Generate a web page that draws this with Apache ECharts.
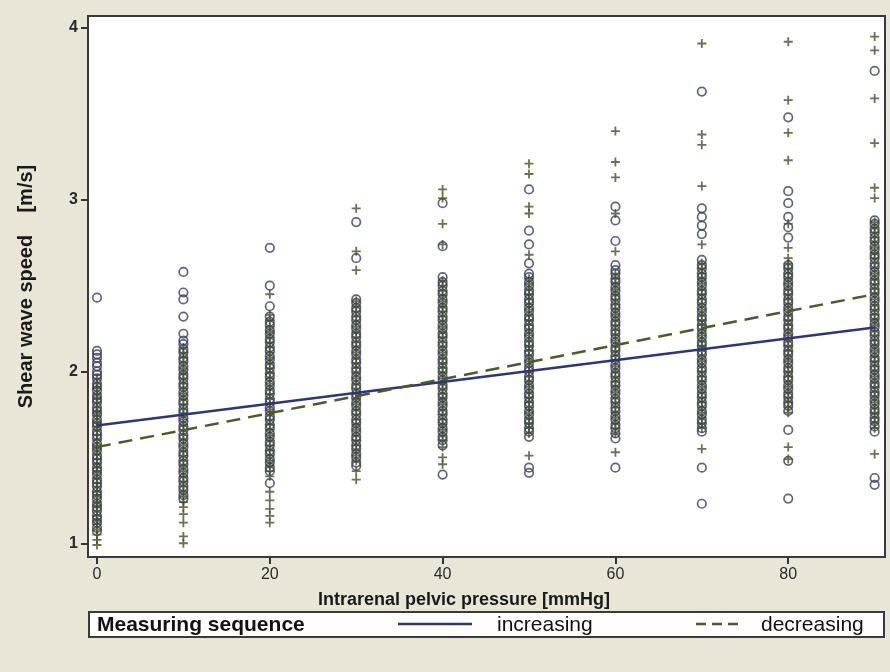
<!DOCTYPE html>
<html>
<head>
<meta charset="utf-8">
<script src="https://cdn.jsdelivr.net/npm/echarts@6/dist/echarts.min.js"></script>
<style>
html,body{margin:0;padding:0;background:#e9e6d7;}
#chart{width:890px;height:672px;}
</style>
</head>
<body>
<div id="chart"></div>
<script>
// ---- data ----
var pressures = [0, 10, 20, 30, 40, 50, 60, 70, 80, 90];
var xTicks = [0, 20, 40, 60, 80];
var yTicks = [1, 2, 3, 4];

// increasing sequence (open circles), one list per pressure
var increasing = [
  [2.43, 2.12, 2.10, 2.08, 2.05, 2.03, 2.00, 1.98, 1.96, 1.93, 1.91, 1.89, 1.86, 1.84, 1.82, 1.79, 1.77, 1.75, 1.72, 1.70, 1.68, 1.65, 1.63, 1.61, 1.58, 1.56, 1.54, 1.51, 1.49, 1.47, 1.44, 1.42, 1.40, 1.37, 1.35, 1.33, 1.30, 1.28, 1.26, 1.23, 1.21, 1.19, 1.16, 1.14, 1.12, 1.09, 1.07],
  [2.58, 2.46, 2.42, 2.32, 2.22, 2.18, 2.16, 2.13, 2.11, 2.08, 2.06, 2.03, 2.01, 1.98, 1.96, 1.93, 1.91, 1.88, 1.86, 1.83, 1.81, 1.78, 1.76, 1.73, 1.71, 1.68, 1.66, 1.63, 1.61, 1.58, 1.56, 1.53, 1.51, 1.48, 1.46, 1.43, 1.41, 1.38, 1.36, 1.33, 1.31, 1.28, 1.26],
  [2.72, 2.50, 2.38, 2.32, 2.29, 2.27, 2.24, 2.22, 2.19, 2.17, 2.14, 2.12, 2.09, 2.07, 2.04, 2.02, 1.99, 1.97, 1.94, 1.92, 1.89, 1.87, 1.84, 1.82, 1.79, 1.77, 1.74, 1.72, 1.69, 1.67, 1.64, 1.62, 1.59, 1.57, 1.54, 1.52, 1.49, 1.47, 1.44, 1.42, 1.35],
  [2.87, 2.66, 2.42, 2.40, 2.37, 2.35, 2.32, 2.30, 2.27, 2.25, 2.22, 2.20, 2.17, 2.15, 2.12, 2.10, 2.07, 2.05, 2.02, 2.00, 1.97, 1.95, 1.92, 1.90, 1.87, 1.85, 1.82, 1.80, 1.77, 1.75, 1.72, 1.70, 1.67, 1.65, 1.62, 1.60, 1.57, 1.55, 1.52, 1.50, 1.47, 1.45],
  [2.98, 2.73, 2.55, 2.52, 2.50, 2.47, 2.45, 2.42, 2.40, 2.37, 2.35, 2.32, 2.30, 2.27, 2.25, 2.22, 2.20, 2.17, 2.15, 2.12, 2.10, 2.07, 2.05, 2.02, 2.00, 1.97, 1.95, 1.92, 1.90, 1.87, 1.85, 1.82, 1.80, 1.77, 1.75, 1.72, 1.70, 1.67, 1.65, 1.62, 1.60, 1.57, 1.40],
  [3.06, 2.82, 2.74, 2.63, 2.57, 2.55, 2.52, 2.50, 2.47, 2.45, 2.42, 2.40, 2.37, 2.35, 2.32, 2.30, 2.27, 2.25, 2.22, 2.20, 2.17, 2.15, 2.12, 2.10, 2.07, 2.05, 2.02, 2.00, 1.97, 1.95, 1.92, 1.90, 1.87, 1.85, 1.82, 1.80, 1.77, 1.75, 1.72, 1.70, 1.67, 1.65, 1.62, 1.44, 1.41],
  [2.96, 2.88, 2.76, 2.62, 2.59, 2.57, 2.54, 2.52, 2.49, 2.47, 2.44, 2.42, 2.39, 2.37, 2.34, 2.32, 2.29, 2.27, 2.24, 2.22, 2.19, 2.17, 2.14, 2.12, 2.09, 2.07, 2.04, 2.02, 1.99, 1.97, 1.94, 1.92, 1.89, 1.87, 1.84, 1.82, 1.79, 1.77, 1.74, 1.72, 1.69, 1.67, 1.64, 1.61, 1.44],
  [3.63, 2.95, 2.90, 2.85, 2.80, 2.65, 2.62, 2.60, 2.57, 2.55, 2.52, 2.50, 2.47, 2.45, 2.42, 2.40, 2.37, 2.35, 2.32, 2.30, 2.27, 2.25, 2.22, 2.20, 2.17, 2.15, 2.12, 2.10, 2.07, 2.05, 2.02, 2.00, 1.97, 1.95, 1.92, 1.90, 1.87, 1.85, 1.82, 1.80, 1.77, 1.75, 1.72, 1.70, 1.67, 1.65, 1.44, 1.23],
  [3.48, 3.05, 2.98, 2.90, 2.84, 2.78, 2.62, 2.60, 2.57, 2.55, 2.52, 2.50, 2.47, 2.45, 2.42, 2.40, 2.37, 2.35, 2.32, 2.30, 2.27, 2.25, 2.22, 2.20, 2.17, 2.15, 2.12, 2.10, 2.07, 2.05, 2.02, 2.00, 1.97, 1.95, 1.92, 1.90, 1.87, 1.85, 1.82, 1.80, 1.77, 1.66, 1.48, 1.26],
  [3.75, 2.88, 2.86, 2.83, 2.81, 2.78, 2.76, 2.73, 2.71, 2.68, 2.66, 2.63, 2.61, 2.58, 2.56, 2.53, 2.51, 2.48, 2.46, 2.43, 2.41, 2.38, 2.36, 2.33, 2.31, 2.28, 2.26, 2.23, 2.21, 2.18, 2.16, 2.13, 2.11, 2.08, 2.06, 2.03, 2.01, 1.98, 1.96, 1.93, 1.91, 1.88, 1.86, 1.83, 1.81, 1.78, 1.76, 1.73, 1.71, 1.68, 1.65, 1.38, 1.34]
];

// decreasing sequence (plus signs), one list per pressure
var decreasing = [
  [1.96, 1.93, 1.90, 1.87, 1.85, 1.82, 1.79, 1.76, 1.74, 1.71, 1.68, 1.66, 1.63, 1.60, 1.57, 1.55, 1.52, 1.49, 1.46, 1.44, 1.41, 1.38, 1.35, 1.33, 1.30, 1.27, 1.24, 1.22, 1.19, 1.16, 1.13, 1.11, 1.08, 1.05, 1.02, 0.99],
  [2.14, 2.11, 2.08, 2.05, 2.02, 1.99, 1.96, 1.93, 1.90, 1.87, 1.84, 1.81, 1.78, 1.75, 1.72, 1.69, 1.66, 1.63, 1.60, 1.57, 1.54, 1.51, 1.48, 1.45, 1.42, 1.39, 1.36, 1.33, 1.30, 1.27, 1.24, 1.21, 1.17, 1.12, 1.04, 1.00],
  [2.45, 2.33, 2.30, 2.26, 2.23, 2.20, 2.17, 2.14, 2.11, 2.08, 2.05, 2.02, 1.99, 1.96, 1.93, 1.90, 1.87, 1.84, 1.81, 1.78, 1.75, 1.72, 1.69, 1.66, 1.63, 1.60, 1.57, 1.54, 1.51, 1.48, 1.45, 1.42, 1.39, 1.30, 1.25, 1.20, 1.16, 1.12],
  [2.95, 2.70, 2.59, 2.41, 2.38, 2.35, 2.32, 2.29, 2.26, 2.23, 2.20, 2.17, 2.14, 2.11, 2.08, 2.05, 2.02, 1.99, 1.96, 1.93, 1.90, 1.87, 1.84, 1.81, 1.78, 1.75, 1.72, 1.69, 1.66, 1.63, 1.60, 1.57, 1.54, 1.51, 1.48, 1.42, 1.37],
  [3.06, 3.01, 2.86, 2.74, 2.53, 2.50, 2.47, 2.44, 2.41, 2.38, 2.35, 2.32, 2.29, 2.26, 2.23, 2.20, 2.17, 2.14, 2.11, 2.08, 2.05, 2.02, 1.99, 1.96, 1.93, 1.90, 1.87, 1.84, 1.81, 1.78, 1.75, 1.72, 1.69, 1.66, 1.63, 1.60, 1.56, 1.50, 1.46],
  [3.21, 3.15, 2.96, 2.92, 2.68, 2.54, 2.51, 2.48, 2.45, 2.42, 2.39, 2.36, 2.33, 2.30, 2.27, 2.24, 2.21, 2.18, 2.15, 2.12, 2.09, 2.06, 2.03, 2.00, 1.97, 1.94, 1.91, 1.88, 1.85, 1.82, 1.79, 1.76, 1.73, 1.70, 1.67, 1.64, 1.51],
  [3.40, 3.22, 3.13, 2.92, 2.70, 2.57, 2.54, 2.51, 2.48, 2.45, 2.42, 2.39, 2.36, 2.33, 2.30, 2.27, 2.24, 2.21, 2.18, 2.15, 2.12, 2.09, 2.06, 2.03, 2.00, 1.97, 1.94, 1.91, 1.88, 1.85, 1.82, 1.79, 1.76, 1.73, 1.70, 1.67, 1.64, 1.53],
  [3.91, 3.38, 3.32, 3.08, 2.74, 2.63, 2.60, 2.57, 2.54, 2.51, 2.48, 2.45, 2.42, 2.39, 2.36, 2.33, 2.30, 2.27, 2.24, 2.21, 2.18, 2.15, 2.12, 2.09, 2.06, 2.03, 2.00, 1.97, 1.94, 1.91, 1.88, 1.85, 1.82, 1.79, 1.76, 1.73, 1.70, 1.67, 1.55],
  [3.92, 3.58, 3.39, 3.23, 2.86, 2.72, 2.66, 2.63, 2.60, 2.57, 2.54, 2.51, 2.48, 2.45, 2.42, 2.39, 2.36, 2.33, 2.30, 2.27, 2.24, 2.21, 2.18, 2.15, 2.12, 2.09, 2.06, 2.03, 2.00, 1.97, 1.94, 1.91, 1.88, 1.85, 1.82, 1.79, 1.76, 1.56, 1.49],
  [3.95, 3.87, 3.59, 3.33, 3.07, 3.01, 2.87, 2.84, 2.81, 2.78, 2.75, 2.72, 2.69, 2.66, 2.63, 2.60, 2.57, 2.54, 2.51, 2.48, 2.45, 2.42, 2.39, 2.36, 2.33, 2.30, 2.27, 2.24, 2.21, 2.18, 2.15, 2.12, 2.09, 2.06, 2.03, 2.00, 1.97, 1.94, 1.91, 1.88, 1.85, 1.82, 1.79, 1.76, 1.73, 1.70, 1.67, 1.52]
];

// regression lines (endpoints)
var fitX = [0, 90];
var fitIncreasing = [1.686, 2.256];
var fitDecreasing = [1.56, 2.45];

// ---- build ----
function points(lists) {
  var out = [];
  for (var i = 0; i < pressures.length; i++) {
    for (var j = 0; j < lists[i].length; j++) out.push([pressures[i], lists[i][j]]);
  }
  return out;
}
function fit(ys) { return fitX.map(function (x, i) { return [x, ys[i]]; }); }

var circleColor = '#363c62';
var plusColor = '#465020';
var incLine = '#2c3778';
var decLine = '#4d5b28';
var plusPath = 'path://M4,0L6,0L6,4L10,4L10,6L6,6L6,10L4,10L4,6L0,6L0,4L4,4Z';
var FONT = 'Liberation Sans';

var chart = echarts.init(document.getElementById('chart'), null, {renderer: 'canvas'});
chart.setOption({
  backgroundColor: '#e9e6d7',
  animation: false,
  textStyle: {fontFamily: FONT},
  grid: {left: 88, top: 16, width: 797, height: 541, show: true, backgroundColor: '#ffffff', borderColor: '#3a3a3a', borderWidth: 2},
  xAxis: {
    type: 'value', min: -1.04, max: 91.2,
    axisLine: {show: true, onZero: false, lineStyle: {color: '#3a3a3a', width: 2}},
    axisTick: {show: true, length: 7, customValues: xTicks, lineStyle: {color: '#333', width: 2}},
    axisLabel: {customValues: xTicks, color: '#2a2a2a', fontSize: 16, margin: 10, fontFamily: FONT},
    splitLine: {show: false}
  },
  yAxis: {
    type: 'value', min: 0.92, max: 4.07,
    axisLine: {show: true, onZero: false, lineStyle: {color: '#3a3a3a', width: 2}},
    axisTick: {show: true, length: 7, customValues: yTicks, lineStyle: {color: '#333', width: 2}},
    axisLabel: {customValues: yTicks, color: '#2a2a2a', fontSize: 16, fontWeight: 'bold', margin: 10, fontFamily: FONT},
    splitLine: {show: false},
    name: 'Shear wave speed    [m/s]', nameLocation: 'middle', nameGap: 52, nameRotate: 90,
    nameTextStyle: {fontSize: 20, fontWeight: 'bold', color: '#1a1a1a', fontFamily: FONT}
  },
  series: [
    {name: 'increasing', type: 'scatter', data: points(increasing), symbol: 'circle', symbolSize: 8.5,
     itemStyle: {color: 'rgba(0,0,0,0)', borderColor: circleColor, borderWidth: 1.7}, z: 2},
    {name: 'decreasing', type: 'scatter', data: points(decreasing), symbol: plusPath, symbolSize: 9,
     itemStyle: {color: plusColor}, z: 3},
    {name: 'increasing fit', type: 'line', data: fit(fitIncreasing), showSymbol: false,
     lineStyle: {color: incLine, width: 2.5}, z: 5},
    {name: 'decreasing fit', type: 'line', data: fit(fitDecreasing), showSymbol: false,
     lineStyle: {color: decLine, width: 2.5, type: [14, 8]}, z: 5}
  ],
  graphic: [
    {type: 'text', style: {text: 'Intrarenal pelvic pressure [mmHg]', x: 464, y: 600, align: 'center', verticalAlign: 'middle', font: 'bold 18px "Liberation Sans"', fill: '#1a1a1a'}},
    {type: 'rect', shape: {x: 89, y: 612, width: 795, height: 25}, style: {fill: '#ffffff', stroke: '#3a3a3a', lineWidth: 2}},
    {type: 'text', style: {text: 'Measuring sequence', x: 97, y: 625, verticalAlign: 'middle', font: 'bold 21px "Liberation Sans"', fill: '#111'}},
    {type: 'line', shape: {x1: 398, y1: 624, x2: 472, y2: 624}, style: {stroke: incLine, lineWidth: 2.5}},
    {type: 'text', style: {text: 'increasing', x: 497, y: 625, verticalAlign: 'middle', font: '21px "Liberation Sans"', fill: '#111'}},
    {type: 'line', shape: {x1: 696, y1: 624, x2: 744, y2: 624}, style: {stroke: decLine, lineWidth: 2.5, lineDash: [10, 6]}},
    {type: 'text', style: {text: 'decreasing', x: 761, y: 625, verticalAlign: 'middle', font: '21px "Liberation Sans"', fill: '#111'}}
  ]
});
</script>
</body>
</html>
